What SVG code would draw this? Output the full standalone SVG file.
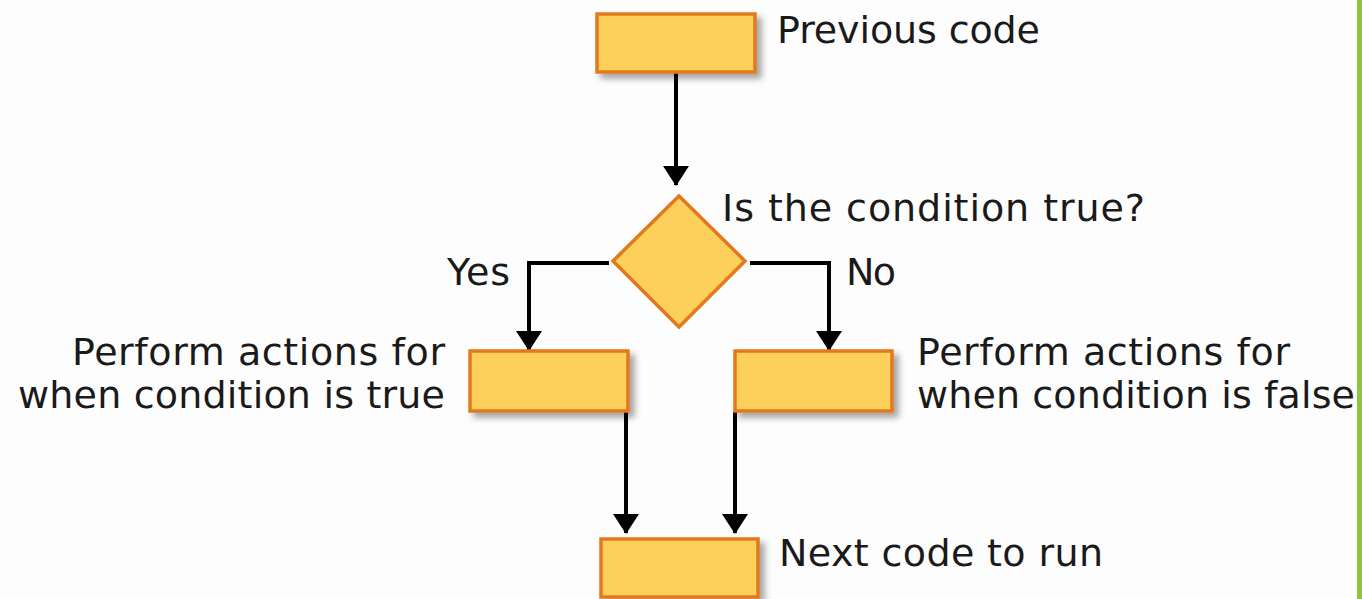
<svg xmlns="http://www.w3.org/2000/svg" width="1362" height="599" viewBox="0 0 1362 599">
<style>
.box{fill:#FDD05C;stroke:#E2791F;stroke-width:3.5}
.t{font-family:"DejaVu Sans",Verdana,sans-serif;font-size:38px;fill:#1a1a1a}
.c{fill:none;stroke:#000;stroke-width:4}
</style>
<defs>
<filter id="sh" x="-20%" y="-30%" width="150%" height="180%">
<feDropShadow dx="5" dy="5" stdDeviation="3" flood-color="#000" flood-opacity="0.35"/>
</filter>
<marker id="ah" viewBox="0 0 20 26" refX="19" refY="13" markerWidth="20" markerHeight="26" markerUnits="userSpaceOnUse" orient="auto">
<path d="M0,0 L20,13 L0,26 Z" fill="#000"/>
</marker>
</defs>
<rect x="0" y="0" width="1362" height="599" fill="#FDFDFD"/>
<rect x="1357" y="0" width="5" height="599" fill="#8CC63E"/>
<g id="connectors">
<line class="c" x1="676" y1="73" x2="676" y2="185" marker-end="url(#ah)"/>
<polyline class="c" points="609,263 529,263 529,350" marker-end="url(#ah)"/>
<polyline class="c" points="750,263 829,263 829,350" marker-end="url(#ah)"/>
<line class="c" x1="626" y1="412" x2="626" y2="533" marker-end="url(#ah)"/>
<line class="c" x1="735" y1="412" x2="735" y2="533" marker-end="url(#ah)"/>
</g>
<g id="previous">
<rect class="box" x="597" y="14" width="158" height="58" filter="url(#sh)"/>
<text class="t" x="777" y="43" textLength="263">Previous code</text>
</g>
<g id="decision">
<polygon class="box" points="679,196 745,261 679,327 613,261" stroke-width="3"/>
<text class="t" x="722" y="221" textLength="423">Is the condition true?</text>
<text class="t" x="447" y="285" textLength="63">Yes</text>
<text class="t" x="846" y="285" textLength="50">No</text>
</g>
<g id="truebox">
<rect class="box" x="470" y="351" width="158" height="60" filter="url(#sh)"/>
<text class="t" x="72" y="365" textLength="373">Perform actions for</text>
<text class="t" x="18" y="408" textLength="427">when condition is true</text>
</g>
<g id="falsebox">
<rect class="box" x="735" y="351" width="157" height="60" filter="url(#sh)"/>
<text class="t" x="917" y="365" textLength="373">Perform actions for</text>
<text class="t" x="917" y="408" textLength="438">when condition is false</text>
</g>
<g id="next">
<rect class="box" x="601" y="539" width="157" height="58" filter="url(#sh)"/>
<text class="t" x="779" y="566" textLength="324">Next code to run</text>
</g>
</svg>
